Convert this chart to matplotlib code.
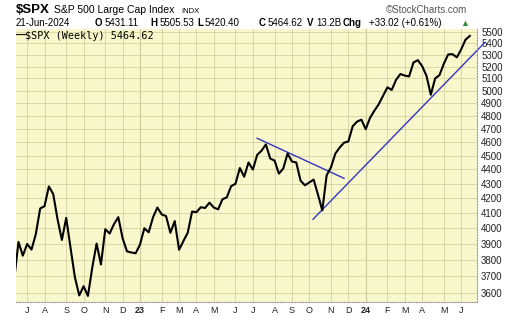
import matplotlib
matplotlib.use('Agg')
import matplotlib.pyplot as plt
from matplotlib.ticker import FixedLocator, NullLocator, NullFormatter
import pandas as pd

# weekly closes of $SPX, first bar is the week ending 17-Jun-2022
closes = [
    3675, 3912, 3825, 3899, 3863, 3962, 4130, 4145, 4280, 4228, 4058, 3924,
    4067, 3873, 3693, 3586, 3640, 3583, 3752, 3901, 3771, 3993, 3965, 4026,
    4072, 3934, 3852, 3845, 3840,
    3895, 3999, 3973, 4071, 4136, 4090, 4079, 3970, 4046, 3862, 3917, 3971,
    4109, 4105, 4138, 4133, 4169, 4136, 4124, 4192, 4205, 4282, 4299, 4410,
    4348, 4450, 4399, 4505, 4536, 4582, 4478, 4464, 4370, 4406, 4515, 4457,
    4450, 4320, 4288, 4308, 4328, 4224, 4117, 4358, 4415, 4514, 4559, 4595,
    4604, 4719, 4755, 4770,
    4697, 4784, 4840, 4891, 4959, 5027, 5006, 5089, 5137, 5124, 5117, 5234,
    5254, 5204, 5123, 4967, 5100, 5128, 5223, 5303, 5305, 5278, 5347, 5432,
    5465,
]
first_week = '2022-06-17'

# hand drawn trendlines (date, price)
resist_dates = ['2023-07-14', '2023-12-01']
resist_prices = [4628, 4337]
support_dates = ['2023-10-12', '2024-07-15']
support_prices = [4058, 5406]

price_ticks = list(range(3600, 5501, 100))
month_letters = 'JFMAMJJASOND'

W, H = 520, 318
plt.rcParams['font.family'] = ['Liberation Sans', 'DejaVu Sans']

fig = plt.figure(figsize=(W / 100, H / 100), dpi=100)
ax = fig.add_axes([16 / W, 1 - 302 / H, (477 - 16) / W, (302 - 28.5) / H])

dates = pd.date_range(first_week, periods=len(closes), freq='W-FRI')

# month ticks sit on the first weekly bar whose week starts in that month
tick_dates, tick_labels = [], []
prev = None
for d in dates:
    m = (d - pd.Timedelta(days=4)).month
    if prev is not None and m != prev:
        tick_dates.append(d)
        tick_labels.append(f'{d.year % 100:02d}' if m == 1 else month_letters[m - 1])
    prev = m

ax.set_facecolor('#f9f7cc')
ax.set_yscale('log')
ax.set_ylim(3548, 5531)
ax.set_xlim(pd.Timestamp('2022-06-20'), pd.Timestamp('2024-07-02 12:00'))

ax.yaxis.set_major_locator(FixedLocator(price_ticks))
ax.yaxis.set_minor_locator(NullLocator())
ax.yaxis.set_minor_formatter(NullFormatter())
ax.set_yticklabels([str(p) for p in price_ticks])
ax.yaxis.tick_right()

ax.set_xticks(tick_dates)
ax.set_xticklabels(tick_labels)
for lbl in ax.get_xticklabels():
    if lbl.get_text().isdigit():
        lbl.set_fontweight('bold')
        lbl.set_fontsize(7.5)

ax.tick_params(axis='y', length=0, pad=3, labelsize=7, colors='#222222')
ax.tick_params(axis='x', length=0, pad=3, labelsize=6.5, colors='#222222')

ax.grid(True, color='#d4d2a0', linewidth=0.6)
ax.set_axisbelow(True)
for d, t in zip(tick_dates, tick_labels):
    if t.isdigit():
        ax.axvline(d, color='#b3b184', linewidth=0.8, zorder=0.5)

for side in ['top', 'left']:
    ax.spines[side].set_visible(False)
for side in ['right', 'bottom']:
    ax.spines[side].set_color('#999999')
    ax.spines[side].set_linewidth(0.8)
    ax.spines[side].set_linestyle((0, (1, 1.5)))

ax.plot(dates, closes, color='black', linewidth=1.5, zorder=3)
ax.plot(pd.to_datetime(resist_dates), resist_prices, color='#3535c0', linewidth=1.0, zorder=2)
ax.plot(pd.to_datetime(support_dates), support_prices, color='#3535c0', linewidth=1.0,
        zorder=2, clip_on=False)


def px(x, y):
    return x / W, 1 - y / H


# header rows
fig.text(*px(16, 12.7), '$SPX', fontsize=9.5, fontweight='bold', va='baseline')
fig.text(*px(54, 12.7), 'S&P 500 Large Cap Index', fontsize=7.5, va='baseline')
fig.text(*px(181, 12.7), 'INDX', fontsize=5.5, va='baseline')
fig.text(*px(386, 13), '\u00a9StockCharts.com', fontsize=7, color='#555555', va='baseline')

row2 = [
    (16, '21-Jun-2024', 'normal'),
    (95, 'O', 'bold'), (105, '5431.11', 'normal'),
    (150, 'H', 'bold'), (159.5, '5505.53', 'normal'),
    (197, 'L', 'bold'), (205, '5420.40', 'normal'),
    (259, 'C', 'bold'), (268, '5464.62', 'normal'),
    (307, 'V', 'bold'), (316, '13.2B', 'normal'),
    (343, 'Chg', 'bold'), (369, '+33.02 (+0.61%)', 'normal'),
]
for x, s, w in row2:
    fig.text(*px(x, 26), s, fontsize=7, fontweight=w, va='baseline')
fig.text(*px(460, 26), '\u25b2', fontsize=6.5, color='#2e8b2e', va='baseline')

# legend
fig.text(*px(16, 39), '\u2014', fontsize=7.5, fontweight='bold', va='baseline')
fig.text(*px(25, 39), '$SPX (Weekly) 5464.62', fontsize=7.3, family='DejaVu Sans Mono',
         va='baseline')

fig.savefig('out.png', dpi=100)
